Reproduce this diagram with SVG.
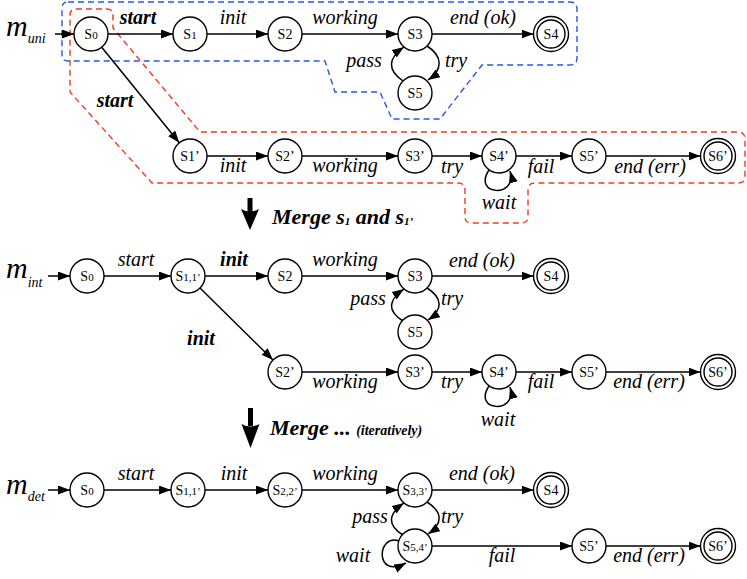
<svg xmlns="http://www.w3.org/2000/svg" width="747" height="579" viewBox="0 0 747 579">
<style>
.n{fill:#fff;stroke:#000;stroke-width:1.4}
.nt{font-size:14px;text-anchor:middle;fill:#000}
.sm{font-size:11px}
.e{fill:none;stroke:#000;stroke-width:1.5}
.l{font-style:italic;font-size:20px;text-anchor:middle;fill:#000}
.b{font-weight:bold}
.m{font-style:italic;font-size:30px;fill:#000}
.mt{font-style:italic;font-weight:bold;font-size:22px;fill:#000}
.box{fill:none;stroke-width:1.4;stroke-dasharray:6 4}
</style>
<defs>
<marker id="a" markerUnits="userSpaceOnUse" markerWidth="13" markerHeight="9" refX="12" refY="4.5" orient="auto">
<path d="M0,0 L12,4.5 L0,9 z" fill="#000"/>
</marker>
</defs>
<rect width="747" height="579" fill="#fff"/>

<g id="regions">
<path class="box" stroke="#2a55f0" d="M68,2 H570 Q577,2 577,9 V58 Q577,65 570,65 H482 L440,119 H392 L380,92 H335 L325,61 H68 Q62,61 62,55 V8 Q62,2 68,2 Z"/>
<path class="box" stroke="#f03a22" d="M76,9 H107 Q113,9 113,15 V28 L200,132 H738 Q745,132 745,139 V177 Q745,183 738,183 H535 Q528,183 528,190 V217 Q528,223 521,223 H472 Q465,223 465,217 V190 Q465,183 458,183 H152 L70,92 V15 Q70,9 76,9 Z"/>
</g>

<g id="connectors">
<line class="e" x1="55" y1="34" x2="74" y2="34" marker-end="url(#a)"/>
<line class="e" x1="108" y1="34" x2="173" y2="34" marker-end="url(#a)"/>
<line class="e" x1="207" y1="34" x2="268" y2="34" marker-end="url(#a)"/>
<line class="e" x1="302" y1="34" x2="398" y2="34" marker-end="url(#a)"/>
<line class="e" x1="432" y1="34" x2="533.5" y2="34" marker-end="url(#a)"/>
<path class="e" d="M427,46 C443,56 443,70 428,80" marker-end="url(#a)"/>
<path class="e" d="M403,81 C387,70 388,58 404,47" marker-end="url(#a)"/>
<line class="e" x1="101.7" y1="47.2" x2="179.3" y2="142.8" marker-end="url(#a)"/>
<line class="e" x1="207" y1="156" x2="268" y2="156" marker-end="url(#a)"/>
<line class="e" x1="302" y1="156" x2="398" y2="156" marker-end="url(#a)"/>
<line class="e" x1="432" y1="156" x2="482" y2="156" marker-end="url(#a)"/>
<line class="e" x1="516" y1="156" x2="572" y2="156" marker-end="url(#a)"/>
<line class="e" x1="606" y1="156" x2="700.5" y2="156" marker-end="url(#a)"/>
<path class="e" d="M489,170 C472,196 518,198 510,171" marker-end="url(#a)"/>
<line class="e" x1="48" y1="276" x2="70" y2="276" marker-end="url(#a)"/>
<line class="e" x1="104" y1="276" x2="171" y2="276" marker-end="url(#a)"/>
<line class="e" x1="205" y1="276" x2="268" y2="276" marker-end="url(#a)"/>
<line class="e" x1="302" y1="276" x2="398" y2="276" marker-end="url(#a)"/>
<line class="e" x1="432" y1="276" x2="533.5" y2="276" marker-end="url(#a)"/>
<path class="e" d="M427,288 C443,298 443,310 428,320" marker-end="url(#a)"/>
<path class="e" d="M403,321 C387,311 388,300 404,289" marker-end="url(#a)"/>
<line class="e" x1="200" y1="288" x2="273" y2="360" marker-end="url(#a)"/>
<line class="e" x1="302" y1="372" x2="398" y2="372" marker-end="url(#a)"/>
<line class="e" x1="432" y1="372" x2="482" y2="372" marker-end="url(#a)"/>
<line class="e" x1="516" y1="372" x2="572" y2="372" marker-end="url(#a)"/>
<line class="e" x1="606" y1="372" x2="700.5" y2="372" marker-end="url(#a)"/>
<path class="e" d="M489,386 C472,412 518,414 510,387" marker-end="url(#a)"/>
<line class="e" x1="48" y1="490" x2="70" y2="490" marker-end="url(#a)"/>
<line class="e" x1="104" y1="490" x2="171" y2="490" marker-end="url(#a)"/>
<line class="e" x1="205" y1="490" x2="268" y2="490" marker-end="url(#a)"/>
<line class="e" x1="302" y1="490" x2="398" y2="490" marker-end="url(#a)"/>
<line class="e" x1="432" y1="490" x2="533.5" y2="490" marker-end="url(#a)"/>
<path class="e" d="M427,502 C443,512 443,524 428,534" marker-end="url(#a)"/>
<path class="e" d="M403,535 C387,525 388,514 404,503" marker-end="url(#a)"/>
<line class="e" x1="432" y1="546" x2="572" y2="546" marker-end="url(#a)"/>
<line class="e" x1="606" y1="546" x2="700.5" y2="546" marker-end="url(#a)"/>
<path class="e" d="M399,541 C377,533 374,580 406,563" marker-end="url(#a)"/>
</g>

<g id="labels" font-family="'Liberation Serif', serif">
<text class="m" x="6" y="36">m<tspan font-size="14" dy="7">uni</tspan></text>
<text class="l b" x="138" y="24">start</text>
<text class="l" x="233" y="24">init</text>
<text class="l" x="345" y="24">working</text>
<text class="l" x="483" y="24">end (ok)</text>
<text class="l" x="364" y="67">pass</text>
<text class="l" x="456" y="67">try</text>
<text class="l b" x="115" y="107">start</text>

<text class="l" x="233" y="172">init</text>
<text class="l" x="345" y="172">working</text>
<text class="l" x="452" y="173">try</text>
<text class="l" x="541" y="173">fail</text>
<text class="l" x="650" y="173">end (err)</text>
<text class="l" x="499" y="209">wait</text>

<text class="m" x="6" y="278">m<tspan font-size="14" dy="9">int</tspan></text>
<text class="l" x="136" y="266">start</text>
<text class="l b" x="234" y="266">init</text>
<text class="l" x="345" y="266">working</text>
<text class="l" x="482" y="267">end (ok)</text>
<text class="l" x="368" y="305">pass</text>
<text class="l" x="452" y="305">try</text>
<text class="l b" x="201" y="345">init</text>

<text class="l" x="345" y="388">working</text>
<text class="l" x="452" y="388">try</text>
<text class="l" x="541" y="388">fail</text>
<text class="l" x="649" y="388">end (err)</text>
<text class="l" x="498" y="426">wait</text>

<text class="m" x="6" y="494">m<tspan font-size="14" dy="7">det</tspan></text>
<text class="l" x="136" y="480">start</text>
<text class="l" x="234" y="480">init</text>
<text class="l" x="345" y="480">working</text>
<text class="l" x="482" y="480">end (ok)</text>
<text class="l" x="370" y="523">pass</text>
<text class="l" x="452" y="523">try</text>
<text class="l" x="353" y="562">wait</text>
<text class="l" x="502" y="562">fail</text>
<text class="l" x="649" y="562">end (err)</text>
</g>

<g id="merge1" font-family="'Liberation Serif', serif">
<rect x="247.5" y="198" width="5" height="16" fill="#000"/>
<path d="M241,209 Q250,214 259,209 L250,230 Z" fill="#000"/>
<text class="mt" x="272" y="224">Merge <tspan>s</tspan><tspan font-size="11" dy="1">1</tspan><tspan dy="-1"> and </tspan><tspan>s</tspan><tspan font-size="11" dy="1">1’</tspan></text>
</g>
<g id="merge2" font-family="'Liberation Serif', serif">
<rect x="248" y="408" width="5" height="18" fill="#000"/>
<path d="M241.5,424 Q250.5,429 259.5,424 L250.5,448 Z" fill="#000"/>
<text class="mt" x="270" y="435">Merge ... <tspan font-size="14">(iteratively)</tspan></text>
</g>

<g id="nodes" font-family="'Liberation Serif', serif">
<g id="A_S0"><circle class="n" cx="91" cy="34" r="17"/><text class="nt" x="91" y="39">S<tspan class="sm">0</tspan></text></g>
<g id="A_S1"><circle class="n" cx="190" cy="34" r="17"/><text class="nt" x="190" y="39">S<tspan class="sm">1</tspan></text></g>
<g id="A_S2"><circle class="n" cx="285" cy="34" r="17"/><text class="nt" x="285" y="39">S2</text></g>
<g id="A_S3"><circle class="n" cx="415" cy="34" r="17"/><text class="nt" x="415" y="39">S3</text></g>
<g id="A_S4"><circle class="n" cx="551" cy="34" r="17.5"/><circle class="n" cx="551" cy="34" r="14"/><text class="nt" x="551" y="39">S4</text></g>
<g id="A_S5"><circle class="n" cx="415" cy="93" r="17"/><text class="nt" x="415" y="98">S5</text></g>
<g id="B_S1p"><circle class="n" cx="190" cy="156" r="17"/><text class="nt" x="190" y="161">S1’</text></g>
<g id="B_S2p"><circle class="n" cx="285" cy="156" r="17"/><text class="nt" x="285" y="161">S2’</text></g>
<g id="B_S3p"><circle class="n" cx="415" cy="156" r="17"/><text class="nt" x="415" y="161">S3’</text></g>
<g id="B_S4p"><circle class="n" cx="499" cy="156" r="17"/><text class="nt" x="499" y="161">S4’</text></g>
<g id="B_S5p"><circle class="n" cx="589" cy="156" r="17"/><text class="nt" x="589" y="161">S5’</text></g>
<g id="B_S6p"><circle class="n" cx="718" cy="156" r="17.5"/><circle class="n" cx="718" cy="156" r="14"/><text class="nt" x="718" y="161">S6’</text></g>
<g id="C_S0"><circle class="n" cx="87" cy="276" r="17"/><text class="nt" x="87" y="281">S<tspan class="sm">0</tspan></text></g>
<g id="C_S11"><circle class="n" cx="188" cy="276" r="17"/><text class="nt" x="188" y="281">S<tspan class="sm">1,1’</tspan></text></g>
<g id="C_S2"><circle class="n" cx="285" cy="276" r="17"/><text class="nt" x="285" y="281">S2</text></g>
<g id="C_S3"><circle class="n" cx="415" cy="276" r="17"/><text class="nt" x="415" y="281">S3</text></g>
<g id="C_S4"><circle class="n" cx="551" cy="276" r="17.5"/><circle class="n" cx="551" cy="276" r="14"/><text class="nt" x="551" y="281">S4</text></g>
<g id="C_S5"><circle class="n" cx="415" cy="332" r="17"/><text class="nt" x="415" y="337">S5</text></g>
<g id="D_S2p"><circle class="n" cx="285" cy="372" r="17"/><text class="nt" x="285" y="377">S2’</text></g>
<g id="D_S3p"><circle class="n" cx="415" cy="372" r="17"/><text class="nt" x="415" y="377">S3’</text></g>
<g id="D_S4p"><circle class="n" cx="499" cy="372" r="17"/><text class="nt" x="499" y="377">S4’</text></g>
<g id="D_S5p"><circle class="n" cx="589" cy="372" r="17"/><text class="nt" x="589" y="377">S5’</text></g>
<g id="D_S6p"><circle class="n" cx="718" cy="372" r="17.5"/><circle class="n" cx="718" cy="372" r="14"/><text class="nt" x="718" y="377">S6’</text></g>
<g id="E_S0"><circle class="n" cx="87" cy="490" r="17"/><text class="nt" x="87" y="495">S<tspan class="sm">0</tspan></text></g>
<g id="E_S11"><circle class="n" cx="188" cy="490" r="17"/><text class="nt" x="188" y="495">S<tspan class="sm">1,1’</tspan></text></g>
<g id="E_S22"><circle class="n" cx="285" cy="490" r="17"/><text class="nt" x="285" y="495">S<tspan class="sm">2,2’</tspan></text></g>
<g id="E_S33"><circle class="n" cx="415" cy="490" r="17"/><text class="nt" x="415" y="495">S<tspan class="sm">3,3’</tspan></text></g>
<g id="E_S4"><circle class="n" cx="551" cy="490" r="17.5"/><circle class="n" cx="551" cy="490" r="14"/><text class="nt" x="551" y="495">S4</text></g>
<g id="E_S54"><circle class="n" cx="415" cy="546" r="17"/><text class="nt" x="415" y="551">S<tspan class="sm">5,4’</tspan></text></g>
<g id="E_S5p"><circle class="n" cx="589" cy="546" r="17"/><text class="nt" x="589" y="551">S5’</text></g>
<g id="E_S6p"><circle class="n" cx="718" cy="546" r="17.5"/><circle class="n" cx="718" cy="546" r="14"/><text class="nt" x="718" y="551">S6’</text></g>
</g>
</svg>
